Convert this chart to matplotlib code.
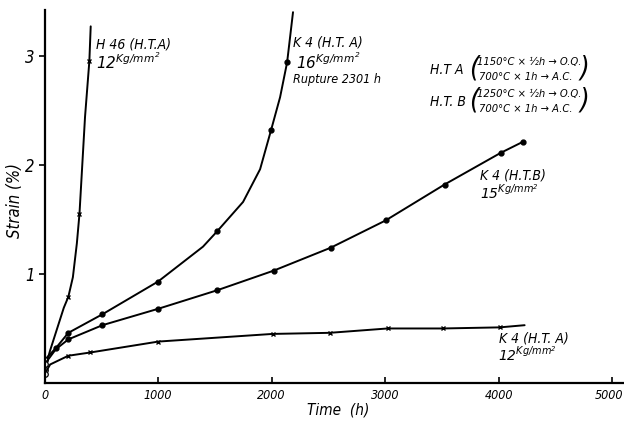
import matplotlib
matplotlib.use('Agg')
import matplotlib.pyplot as plt
from matplotlib import font_manager
from matplotlib.transforms import offset_copy

# creep curves
h46_t = [0, 50, 170, 210, 250, 285, 308, 357, 395, 407]
h46_e = [0.12, 0.30, 0.69, 0.79, 0.97, 1.28, 1.55, 2.44, 2.95, 3.27]
h46_marks = [3, 6, 8]

k4a16_t = [0, 100, 210, 510, 1000, 1396, 1520, 1749, 1899, 1996, 2075, 2137, 2189]
k4a16_e = [0.21, 0.32, 0.46, 0.63, 0.93, 1.25, 1.39, 1.66, 1.96, 2.32, 2.62, 2.94, 3.40]
k4a16_marks = [1, 2, 3, 4, 6, 9, 11]

k4b15_t = [0, 100, 210, 510, 1000, 1520, 2018, 2520, 3004, 3524, 4018, 4211]
k4b15_e = [0.17, 0.31, 0.40, 0.53, 0.68, 0.85, 1.03, 1.24, 1.49, 1.82, 2.11, 2.21]
k4b15_marks = [2, 3, 4, 5, 6, 7, 8, 9, 10, 11]

k4a12_t = [0, 50, 210, 405, 1004, 2009, 2511, 3022, 3507, 4009, 4229]
k4a12_e = [0.08, 0.17, 0.25, 0.28, 0.38, 0.45, 0.46, 0.50, 0.50, 0.51, 0.53]
k4a12_marks = [2, 3, 4, 5, 6, 7, 8, 9]

x_ticks = [0, 1000, 2000, 3000, 4000, 5000]
y_ticks = [1, 2, 3]

names = {f.name for f in font_manager.fontManager.ttflist}
if 'Liberation Sans Narrow' in names:
    FONT = dict(family='Liberation Sans Narrow', style='italic')
else:
    FONT = dict(family='DejaVu Sans', style='italic', stretch='condensed')

plt.rcParams['mathtext.fontset'] = 'custom'
plt.rcParams['mathtext.rm'] = FONT['family'] + ':italic'
plt.rcParams['mathtext.it'] = FONT['family'] + ':italic'

W, H = 624, 421
fig = plt.figure(figsize=(W / 100, H / 100), dpi=100)
ax = fig.add_axes([44.5 / W, 38 / H, 579 / W, 373 / H])


def px(x, y, s, size=10, **kw):
    fig.text(x / W, 1 - y / H, s, fontsize=size, va='center', ha='left', **FONT, **kw)


def curve(t, e, marks, m, ms):
    ax.plot(t, e, color='black', lw=1.4, solid_capstyle='round')
    ax.plot([t[i] for i in marks], [e[i] for i in marks], m, color='black',
            ms=ms, mew=1.0, ls='none')
    ax.plot(t[0], e[0], 'o', mfc='white', mec='black', ms=4, mew=0.9)


curve(h46_t, h46_e, h46_marks, 'x', 3.5)
curve(k4a16_t, k4a16_e, k4a16_marks, 'o', 3.5)
curve(k4b15_t, k4b15_e, k4b15_marks, 'o', 3.5)
curve(k4a12_t, k4a12_e, k4a12_marks, 'x', 3.5)

ax.set_xlim(0, 5100)
ax.set_ylim(0, 3.42)
ax.spines['top'].set_visible(False)
ax.spines['right'].set_visible(False)
for s in ('left', 'bottom'):
    ax.spines[s].set_linewidth(1.6)
ax.set_xticks(x_ticks)
ax.set_xticklabels([str(v) for v in x_ticks], fontsize=9, **FONT)
ax.set_yticks(y_ticks)
ax.set_yticklabels([str(v) for v in y_ticks], fontsize=12, **FONT)
ax.tick_params(axis='x', direction='in', length=4, width=1.2, pad=4)
ax.tick_params(axis='y', direction='out', length=4, width=1.2, pad=3)

# last tick label sits flush against the right edge, as in the scan
fig.canvas.draw()
last = ax.get_xticklabels()[-1]
last.set_ha('right')
last.set_transform(offset_copy(last.get_transform(), fig=fig, x=11, units='dots'))

fig.text(15 / W, 1 - 200 / H, 'Strain (%)', rotation=90, fontsize=12,
         va='center', ha='center', **FONT)
fig.text(338 / W, 1 - 410 / H, 'Time  (h)', fontsize=11, va='center', ha='center', **FONT)

# curve labels
px(96, 44, 'H 46 (H.T.A)', 10)
px(96, 62, r'$12^{Kg/mm^2}$', 11)
px(293, 43, 'K 4 (H.T. A)', 10)
px(296, 62, r'$16^{Kg/mm^2}$', 11)
px(293, 80, 'Rupture 2301 h', 9)
px(480, 175, 'K 4 (H.T.B)', 10)
px(480, 193, r'$15^{Kg/mm^2}$', 10)
px(499, 338, 'K 4 (H.T. A)', 10)
px(498, 355, r'$12^{Kg/mm^2}$', 10)

# heat treatment key
px(430, 70, 'H.T A', 10)
px(469, 69, '(', 20)
px(477, 62, '1150°C × ½h → O.Q.', 8)
px(479, 77, '700°C × 1h → A.C.', 8)
px(580, 69, ')', 20)
px(430, 102, 'H.T. B', 10)
px(469, 101, '(', 20)
px(477, 94, '1250°C × ½h → O.Q.', 8)
px(479, 109, '700°C × 1h → A.C.', 8)
px(580, 101, ')', 20)

fig.savefig('out.png', dpi=100)
